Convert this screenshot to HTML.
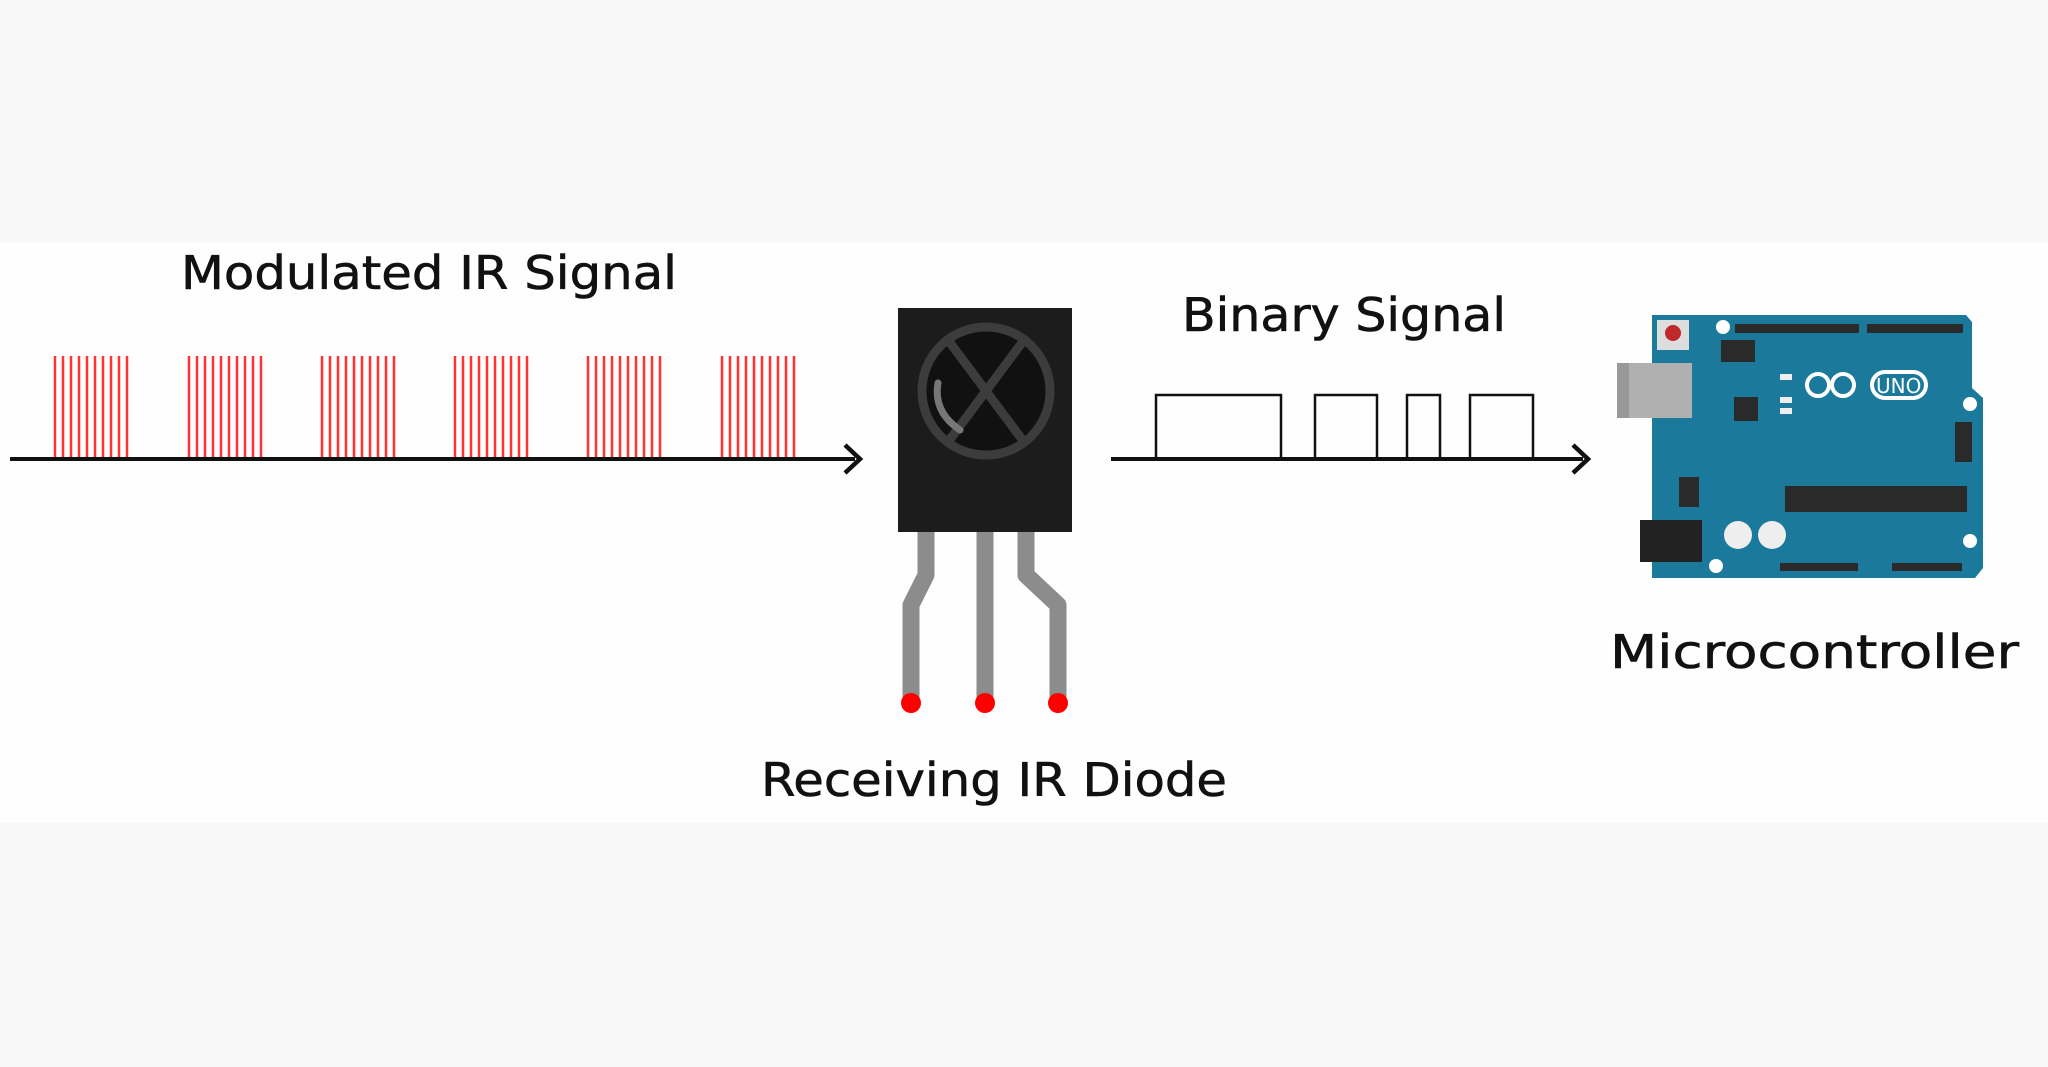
<!DOCTYPE html>
<html><head><meta charset="utf-8"><style>
html,body{margin:0;padding:0;background:#f8f8f8}
svg{display:block}
text{font-family:"DejaVu Sans","Liberation Sans",sans-serif;font-size:46px;fill:#111;stroke:#111;stroke-width:0.6}
</style></head><body>
<svg width="2048" height="1067" viewBox="0 0 2048 1067" xmlns="http://www.w3.org/2000/svg">
<rect x="0" y="0" width="2048" height="1067" fill="#f8f8f8"/>
<rect x="0" y="242" width="2048" height="581" fill="#fefefe"/>
<text x="181" y="289" textLength="496" lengthAdjust="spacingAndGlyphs">Modulated IR Signal</text>
<text x="1182" y="331" textLength="324" lengthAdjust="spacingAndGlyphs">Binary Signal</text>
<text x="761" y="796" textLength="466" lengthAdjust="spacingAndGlyphs">Receiving IR Diode</text>
<text x="1610" y="668" textLength="409" lengthAdjust="spacingAndGlyphs">Microcontroller</text>
<g stroke="#ff3333" stroke-width="2.5">
<g id="b"><line x1="55" y1="356" x2="55" y2="459"/><line x1="63" y1="356" x2="63" y2="459"/><line x1="71" y1="356" x2="71" y2="459"/><line x1="79" y1="356" x2="79" y2="459"/><line x1="87" y1="356" x2="87" y2="459"/><line x1="95" y1="356" x2="95" y2="459"/><line x1="103" y1="356" x2="103" y2="459"/><line x1="111" y1="356" x2="111" y2="459"/><line x1="119" y1="356" x2="119" y2="459"/><line x1="127" y1="356" x2="127" y2="459"/></g>
<use href="#b" x="134"/><use href="#b" x="267"/><use href="#b" x="400"/><use href="#b" x="533"/><use href="#b" x="667"/>
</g>
<line x1="10" y1="459" x2="855" y2="459" stroke="#111" stroke-width="4"/>
<path d="M845 445 L860 459 L845 473" fill="none" stroke="#111" stroke-width="4.5"/>
<polyline points="1111,459 1156,459 1156,395 1281,395 1281,459 1315,459 1315,395 1377,395 1377,459 1407,459 1407,395 1440,395 1440,459 1470,459 1470,395 1533,395 1533,459" fill="none" stroke="#111" stroke-width="2.5"/>
<line x1="1111" y1="459" x2="1583" y2="459" stroke="#111" stroke-width="4"/>
<path d="M1573 445 L1588 459 L1573 473" fill="none" stroke="#111" stroke-width="4.5"/>
<!-- IR diode -->
<g fill="none" stroke="#8c8c8c" stroke-width="17" stroke-linejoin="round">
<polyline points="926,532 926,575 911,605 911,700"/>
<polyline points="985,532 985,700"/>
<polyline points="1026,532 1026,575 1058,605 1058,700"/>
</g>
<rect x="898" y="308" width="174" height="224" fill="#1c1c1c"/>
<circle cx="986" cy="391" r="64" fill="#111" stroke="#3c3c3c" stroke-width="9"/>
<line x1="948" y1="340" x2="1024" y2="442" stroke="#3c3c3c" stroke-width="9"/>
<line x1="1024" y1="340" x2="948" y2="442" stroke="#3c3c3c" stroke-width="9"/>
<path d="M938 383 Q933 412 960 430" fill="none" stroke="#777" stroke-width="7" stroke-linecap="round"/>
<circle cx="911" cy="703" r="10" fill="#f00"/><circle cx="985" cy="703" r="10" fill="#f00"/><circle cx="1058" cy="703" r="10" fill="#f00"/>
<!-- Arduino -->
<path d="M1652 315 L1966 315 L1972 322 L1972 388 L1983 398 L1983 568 L1975 578 L1652 578 Z" fill="#1b7a9c"/>
<rect x="1617" y="363" width="75" height="55" fill="#b0b0b0"/>
<rect x="1617" y="363" width="12" height="55" fill="#999"/>
<rect x="1640" y="520" width="62" height="42" fill="#222"/>
<rect x="1657" y="320" width="32" height="30" fill="#ddd"/><circle cx="1673" cy="333" r="8" fill="#c0282a"/>
<rect x="1735" y="324" width="124" height="9" fill="#2a2a2a"/>
<rect x="1867" y="324" width="96" height="9" fill="#2a2a2a"/>
<rect x="1721" y="340" width="34" height="22" fill="#2a2a2a"/>
<rect x="1734" y="397" width="24" height="24" fill="#2a2a2a"/>
<rect x="1785" y="486" width="182" height="26" fill="#2a2a2a"/>
<rect x="1955" y="422" width="17" height="40" fill="#2a2a2a"/>
<rect x="1679" y="477" width="20" height="30" fill="#2a2a2a"/>
<rect x="1780" y="563" width="78" height="8" fill="#2a2a2a"/>
<rect x="1892" y="563" width="70" height="8" fill="#2a2a2a"/>
<circle cx="1738" cy="535" r="14" fill="#eee"/><circle cx="1772" cy="535" r="14" fill="#eee"/>
<rect x="1780" y="374" width="12" height="6" fill="#eee"/><rect x="1780" y="397" width="12" height="6" fill="#eee"/><rect x="1780" y="408" width="12" height="6" fill="#eee"/>
<circle cx="1723" cy="327" r="7" fill="#fff"/><circle cx="1970" cy="404" r="7" fill="#fff"/><circle cx="1970" cy="541" r="7" fill="#fff"/><circle cx="1716" cy="566" r="7" fill="#fff"/>
<g fill="none" stroke="#fff" stroke-width="4"><circle cx="1818" cy="385" r="11"/><circle cx="1843" cy="385" r="11"/><rect x="1872" y="372" width="54" height="26" rx="13"/></g>
<text x="1876" y="393" style="font-size:20px;fill:#fff;stroke:none">UNO</text>
</svg>
</body></html>
